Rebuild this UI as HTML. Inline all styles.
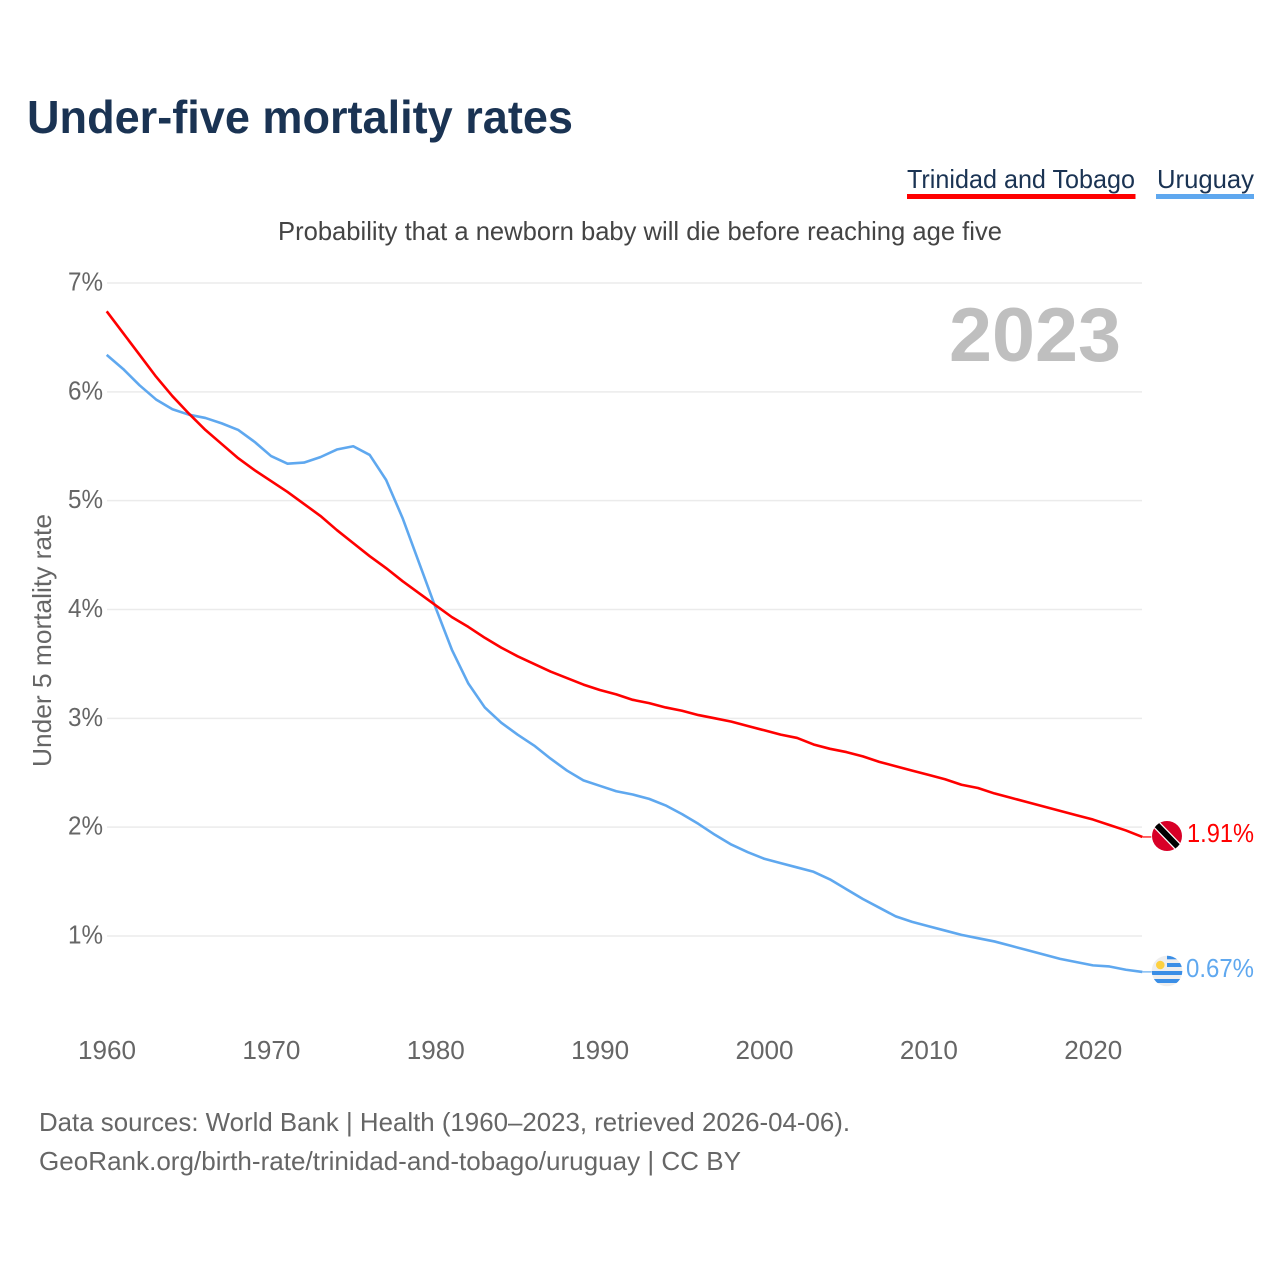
<!DOCTYPE html>
<html lang="en">
<head>
<meta charset="utf-8">
<title>Under-five mortality rates</title>
<style>
html,body{margin:0;padding:0;background:#fff;width:1280px;height:1280px;overflow:hidden}
svg{display:block}
text{font-family:"Liberation Sans",sans-serif}
</style>
</head>
<body>
<svg id="chart" width="1280" height="1280" viewBox="0 0 1280 1280" xmlns="http://www.w3.org/2000/svg">
  <text x="27" y="133" font-size="46" font-weight="700" fill="#1a3353" textLength="546" lengthAdjust="spacingAndGlyphs">Under-five mortality rates</text>

  <g>
    <text x="907" y="188" font-size="26" fill="#1a3353" textLength="228" lengthAdjust="spacingAndGlyphs">Trinidad and Tobago</text>
    <rect x="907" y="194" width="228.5" height="5" fill="#ff0000"/>
  </g>
  <g>
    <text x="1157" y="188" font-size="26" fill="#1a3353" textLength="97" lengthAdjust="spacingAndGlyphs">Uruguay</text>
    <rect x="1156" y="194" width="98" height="5" fill="#5fa8ef"/>
  </g>

  <text x="278" y="240" font-size="26" fill="#444444" textLength="724" lengthAdjust="spacingAndGlyphs">Probability that a newborn baby will die before reaching age five</text>

  <g id="grid"></g>
  <g id="yticks"></g>
  <g id="xticks"></g>

  <text x="949" y="361" font-size="76" font-weight="700" fill="#bfbfbf" textLength="172" lengthAdjust="spacingAndGlyphs">2023</text>

  <text transform="translate(51,767) rotate(-90)" font-size="26" fill="#666666" textLength="253" lengthAdjust="spacingAndGlyphs">Under 5 mortality rate</text>

  <g id="series"></g>

  <g>
    <clipPath id="clip-tt"><circle cx="1167" cy="836" r="15"/></clipPath>
    <g clip-path="url(#clip-tt)">
      <rect x="1150" y="819" width="34" height="35" fill="#d80027"/>
      <line x1="1152" y1="820" x2="1182" y2="851" stroke="#ffffff" stroke-width="8.5"/>
      <line x1="1152" y1="820" x2="1182" y2="851" stroke="#000000" stroke-width="6"/>
    </g>
  </g>
  <text id="label-tt" x="1187" y="842" font-size="26" fill="#ff0000" textLength="67" lengthAdjust="spacingAndGlyphs"></text>

  <g>
    <clipPath id="clip-uy"><circle cx="1167" cy="971" r="15.3"/></clipPath>
    <g clip-path="url(#clip-uy)">
      <rect x="1150" y="954" width="34" height="34" fill="#eeeeee"/>
      <rect x="1167" y="955.5" width="17" height="3.8" fill="#3a8ee6"/>
      <rect x="1167" y="963" width="17" height="4" fill="#3a8ee6"/>
      <rect x="1150" y="971" width="34" height="4" fill="#3a8ee6"/>
      <rect x="1150" y="979" width="34" height="4" fill="#3a8ee6"/>
      <circle cx="1160.3" cy="965" r="4.3" fill="#fdd03f"/>
    </g>
  </g>
  <text id="label-uy" x="1186" y="977" font-size="26" fill="#5fa8ef" textLength="68" lengthAdjust="spacingAndGlyphs"></text>

  <text x="39" y="1131" font-size="26" fill="#666666" textLength="811" lengthAdjust="spacingAndGlyphs">Data sources: World Bank | Health (1960–2023, retrieved 2026-04-06).</text>
  <text x="39" y="1170" font-size="26" fill="#666666" textLength="702" lengthAdjust="spacingAndGlyphs">GeoRank.org/birth-rate/trinidad-and-tobago/uruguay | CC BY</text>
</svg>
<script>
const yTickValues = [1, 2, 3, 4, 5, 6, 7];
const xTickValues = [1960, 1970, 1980, 1990, 2000, 2010, 2020];
const firstYear = 1960;
const trinidadValues = [
  6.74, 6.54, 6.34, 6.14, 5.96, 5.80, 5.65, 5.52, 5.39, 5.28,
  5.18, 5.08, 4.97, 4.86, 4.73, 4.61, 4.49, 4.38, 4.26, 4.15,
  4.04, 3.93, 3.84, 3.74, 3.65, 3.57, 3.50, 3.43, 3.37, 3.31,
  3.26, 3.22, 3.17, 3.14, 3.10, 3.07, 3.03, 3.00, 2.97, 2.93,
  2.89, 2.85, 2.82, 2.76, 2.72, 2.69, 2.65, 2.60, 2.56, 2.52,
  2.48, 2.44, 2.39, 2.36, 2.31, 2.27, 2.23, 2.19, 2.15, 2.11,
  2.07, 2.02, 1.97, 1.91
];
const uruguayValues = [
  6.34, 6.21, 6.06, 5.93, 5.84, 5.79, 5.76, 5.71, 5.65, 5.54,
  5.41, 5.34, 5.35, 5.40, 5.47, 5.50, 5.42, 5.19, 4.84, 4.43,
  4.02, 3.63, 3.32, 3.10, 2.96, 2.85, 2.75, 2.63, 2.52, 2.43,
  2.38, 2.33, 2.30, 2.26, 2.20, 2.12, 2.03, 1.93, 1.84, 1.77,
  1.71, 1.67, 1.63, 1.59, 1.52, 1.43, 1.34, 1.26, 1.18, 1.13,
  1.09, 1.05, 1.01, 0.98, 0.95, 0.91, 0.87, 0.83, 0.79, 0.76,
  0.73, 0.72, 0.69, 0.67
];

const NS = 'http://www.w3.org/2000/svg';
function xScale(year) { return 106.7 + (year - 1960) * (1093 - 106.7) / 60; }
function yScale(v) { return 936 - (v - 1) * (936 - 283) / 6; }

const grid = document.getElementById('grid');
const yticks = document.getElementById('yticks');
const xticks = document.getElementById('xticks');
const series = document.getElementById('series');

yTickValues.forEach(function (v) {
  const line = document.createElementNS(NS, 'line');
  
  
  line.setAttribute('x1', 107);
  line.setAttribute('x2', 1142);
  line.setAttribute('y1', yScale(v));
  line.setAttribute('y2', yScale(v));
  line.setAttribute('stroke', '#ebebeb');
  line.setAttribute('stroke-width', 1.5);
  grid.appendChild(line);

  const t = document.createElementNS(NS, 'text');
  
  
  t.setAttribute('x', 68);
  t.setAttribute('y', yScale(v) + 7.5);
  t.setAttribute('font-size', 26);
  t.setAttribute('fill', '#666666');
  t.setAttribute('textLength', 35);
  t.setAttribute('lengthAdjust', 'spacingAndGlyphs');
  t.textContent = v + '%';
  yticks.appendChild(t);
});

xTickValues.forEach(function (year) {
  const t = document.createElementNS(NS, 'text');
  
  
  t.setAttribute('x', xScale(year) - 28.7);
  t.setAttribute('y', 1059);
  t.setAttribute('font-size', 26);
  t.setAttribute('fill', '#666666');
  t.setAttribute('textLength', 58);
  t.setAttribute('lengthAdjust', 'spacingAndGlyphs');
  t.textContent = year;
  xticks.appendChild(t);
});

function linePoints(values) {
  return values.map(function (v, i) {
    return xScale(firstYear + i).toFixed(2) + ',' + yScale(v).toFixed(2);
  }).join(' ');
}

function connectorEnd(values) {
  const last = values.length - 1;
  return {
    x1: xScale(firstYear + last),
    y: yScale(values[last])
  };
}

const uruguayLine = document.createElementNS(NS, 'polyline');


uruguayLine.setAttribute('points', linePoints(uruguayValues));
uruguayLine.setAttribute('fill', 'none');
uruguayLine.setAttribute('stroke', '#5fa8ef');
uruguayLine.setAttribute('stroke-width', 2.6);
uruguayLine.setAttribute('stroke-linejoin', 'round');
series.appendChild(uruguayLine);

const trinidadLine = document.createElementNS(NS, 'polyline');


trinidadLine.setAttribute('points', linePoints(trinidadValues));
trinidadLine.setAttribute('fill', 'none');
trinidadLine.setAttribute('stroke', '#ff0000');
trinidadLine.setAttribute('stroke-width', 2.6);
trinidadLine.setAttribute('stroke-linejoin', 'round');
series.appendChild(trinidadLine);

const uruguayEnd = connectorEnd(uruguayValues);
const uruguayConnector = document.createElementNS(NS, 'line');


uruguayConnector.setAttribute('x1', uruguayEnd.x1);
uruguayConnector.setAttribute('x2', uruguayEnd.x1 + 9);
uruguayConnector.setAttribute('y1', uruguayEnd.y);
uruguayConnector.setAttribute('y2', uruguayEnd.y);
uruguayConnector.setAttribute('stroke', '#5fa8ef');
uruguayConnector.setAttribute('stroke-width', 1.2);
series.appendChild(uruguayConnector);

const trinidadEnd = connectorEnd(trinidadValues);
const trinidadConnector = document.createElementNS(NS, 'line');


trinidadConnector.setAttribute('x1', trinidadEnd.x1);
trinidadConnector.setAttribute('x2', trinidadEnd.x1 + 9);
trinidadConnector.setAttribute('y1', trinidadEnd.y);
trinidadConnector.setAttribute('y2', trinidadEnd.y);
trinidadConnector.setAttribute('stroke', '#ff0000');
trinidadConnector.setAttribute('stroke-width', 1.2);
series.appendChild(trinidadConnector);

document.getElementById('label-tt').textContent = trinidadValues[trinidadValues.length - 1].toFixed(2) + '%';
document.getElementById('label-uy').textContent = uruguayValues[uruguayValues.length - 1].toFixed(2) + '%';
</script>
</body>
</html>
